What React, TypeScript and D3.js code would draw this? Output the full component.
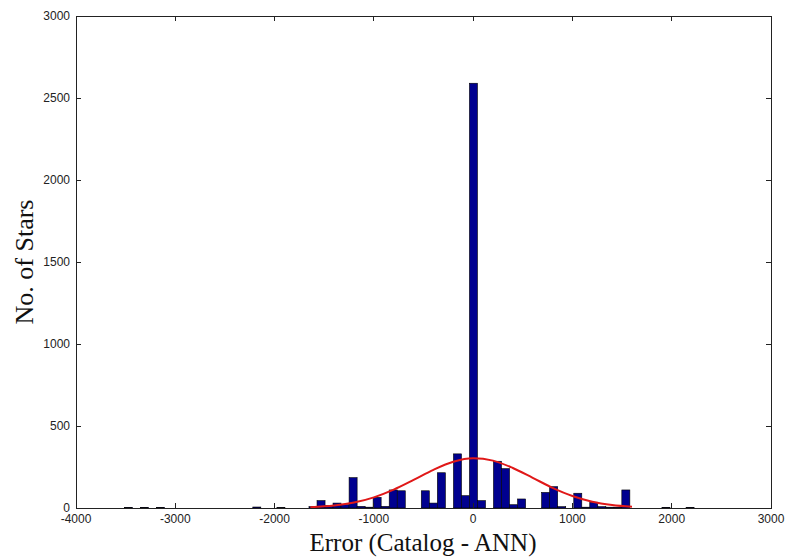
import React, { useRef, useEffect } from "react";
import * as d3 from "d3";

// histogram bins (centre of each bin, error units) and star counts
const binCenters = [
  -3471, -3310, -3148, -2179, -1936, -1613, -1532, -1451, -1371, -1290,
  -1209, -1128, -1047, -967, -886, -805, -724, -482, -401, -320, -158, -78,
  3, 84, 245, 326, 407, 488, 730, 811, 892, 1054, 1134, 1215, 1296, 1377,
  1458, 1538, 1942, 2185,
];
const counts = [
  4, 4, 4, 6, 3, 8, 45, 15, 30, 20,
  185, 10, 5, 65, 10, 110, 105, 105, 30, 215, 330, 75,
  2590, 45, 285, 240, 20, 55, 95, 130, 8, 90, 5, 35, 8, 5,
  5, 110, 4, 4,
];
const binWidth = 80.8;

// fitted normal curve
const fitX = [
  -1640, -1400, -1200, -1000, -800, -600, -400, -200, 0, 200, 400, 600, 800,
  1000, 1200, 1400, 1600,
];
const fitY = [5, 15, 33, 65, 112, 171, 233, 282, 303, 289, 244, 184, 123, 73, 38, 18, 7];

const xTicks = [-4000, -3000, -2000, -1000, 0, 1000, 2000, 3000];
const yTicks = [0, 500, 1000, 1500, 2000, 2500, 3000];

const App = () => {
  const svgRef = useRef<SVGSVGElement>(null);

  useEffect(() => {
    const width = 789;
    const height = 559;
    const margin = { top: 16, right: 18, bottom: 51, left: 76 };

    const svg = d3.select(svgRef.current);
    svg.selectAll("*").remove();

    svg.append("rect").attr("width", width).attr("height", height).attr("fill", "#fff");

    const x = d3
      .scaleLinear()
      .domain([-4000, 3000])
      .range([margin.left, width - margin.right]);
    const y = d3
      .scaleLinear()
      .domain([0, 3000])
      .range([height - margin.bottom, margin.top]);

    const bars = binCenters.map((c, i) => ({ c, n: counts[i] }));

    svg
      .append("g")
      .attr("class", "bars")
      .selectAll("rect")
      .data(bars)
      .join("rect")
      .attr("x", (d) => x(d.c - binWidth / 2))
      .attr("y", (d) => y(d.n))
      .attr("width", x(binWidth) - x(0))
      .attr("height", (d) => y(0) - y(d.n))
      .attr("fill", "#00008f")
      .attr("stroke", "#000")
      .attr("stroke-width", 0.6);

    const line = d3
      .line<number>()
      .x((d, i) => x(fitX[i]))
      .y((d) => y(d))
      .curve(d3.curveMonotoneX);

    svg
      .append("path")
      .attr("d", line(fitY))
      .attr("fill", "none")
      .attr("stroke", "#e01818")
      .attr("stroke-width", 2);

    // box + inward ticks on all sides
    const [x0, x1] = x.range();
    const [y0, y1] = y.range();
    const axes = svg.append("g").attr("stroke", "#222").attr("stroke-width", 1).attr("shape-rendering", "crispEdges");
    axes
      .append("rect")
      .attr("x", x0)
      .attr("y", y1)
      .attr("width", x1 - x0)
      .attr("height", y0 - y1)
      .attr("fill", "none");

    const tl = 5;
    xTicks.forEach((t) => {
      axes.append("line").attr("x1", x(t)).attr("x2", x(t)).attr("y1", y0).attr("y2", y0 - tl);
      axes.append("line").attr("x1", x(t)).attr("x2", x(t)).attr("y1", y1).attr("y2", y1 + tl);
    });
    yTicks.forEach((t) => {
      axes.append("line").attr("x1", x0).attr("x2", x0 + tl).attr("y1", y(t)).attr("y2", y(t));
      axes.append("line").attr("x1", x1).attr("x2", x1 - tl).attr("y1", y(t)).attr("y2", y(t));
    });

    const labels = svg
      .append("g")
      .style("font-family", "Liberation Sans, Arial, sans-serif")
      .style("font-size", "12px")
      .attr("fill", "#222");

    labels
      .selectAll(".xt")
      .data(xTicks)
      .join("text")
      .attr("x", (d) => x(d))
      .attr("y", y0 + 15)
      .attr("text-anchor", "middle")
      .text((d) => d);

    labels
      .selectAll(".yt")
      .data(yTicks)
      .join("text")
      .attr("x", x0 - 6)
      .attr("y", (d) => y(d))
      .attr("dy", "0.35em")
      .attr("text-anchor", "end")
      .text((d) => d);

    svg
      .append("text")
      .attr("x", (x0 + x1) / 2 - 0.5)
      .attr("y", 551)
      .attr("text-anchor", "middle")
      .style("font-family", "Liberation Serif, Times New Roman, serif")
      .style("font-size", "25px")
      .attr("fill", "#111")
      .text("Error (Catalog - ANN)");

    svg
      .append("text")
      .attr("transform", `translate(33, ${(y0 + y1) / 2}) rotate(-90)`)
      .attr("text-anchor", "middle")
      .style("font-family", "Liberation Serif, Times New Roman, serif")
      .style("font-size", "26px")
      .attr("fill", "#111")
      .text("No. of Stars");
  }, []);

  return (
    <svg
      ref={svgRef}
      width={789}
      height={559}
      style={{ position: "absolute", left: 0, top: 0 }}
    />
  );
};

export default App;
